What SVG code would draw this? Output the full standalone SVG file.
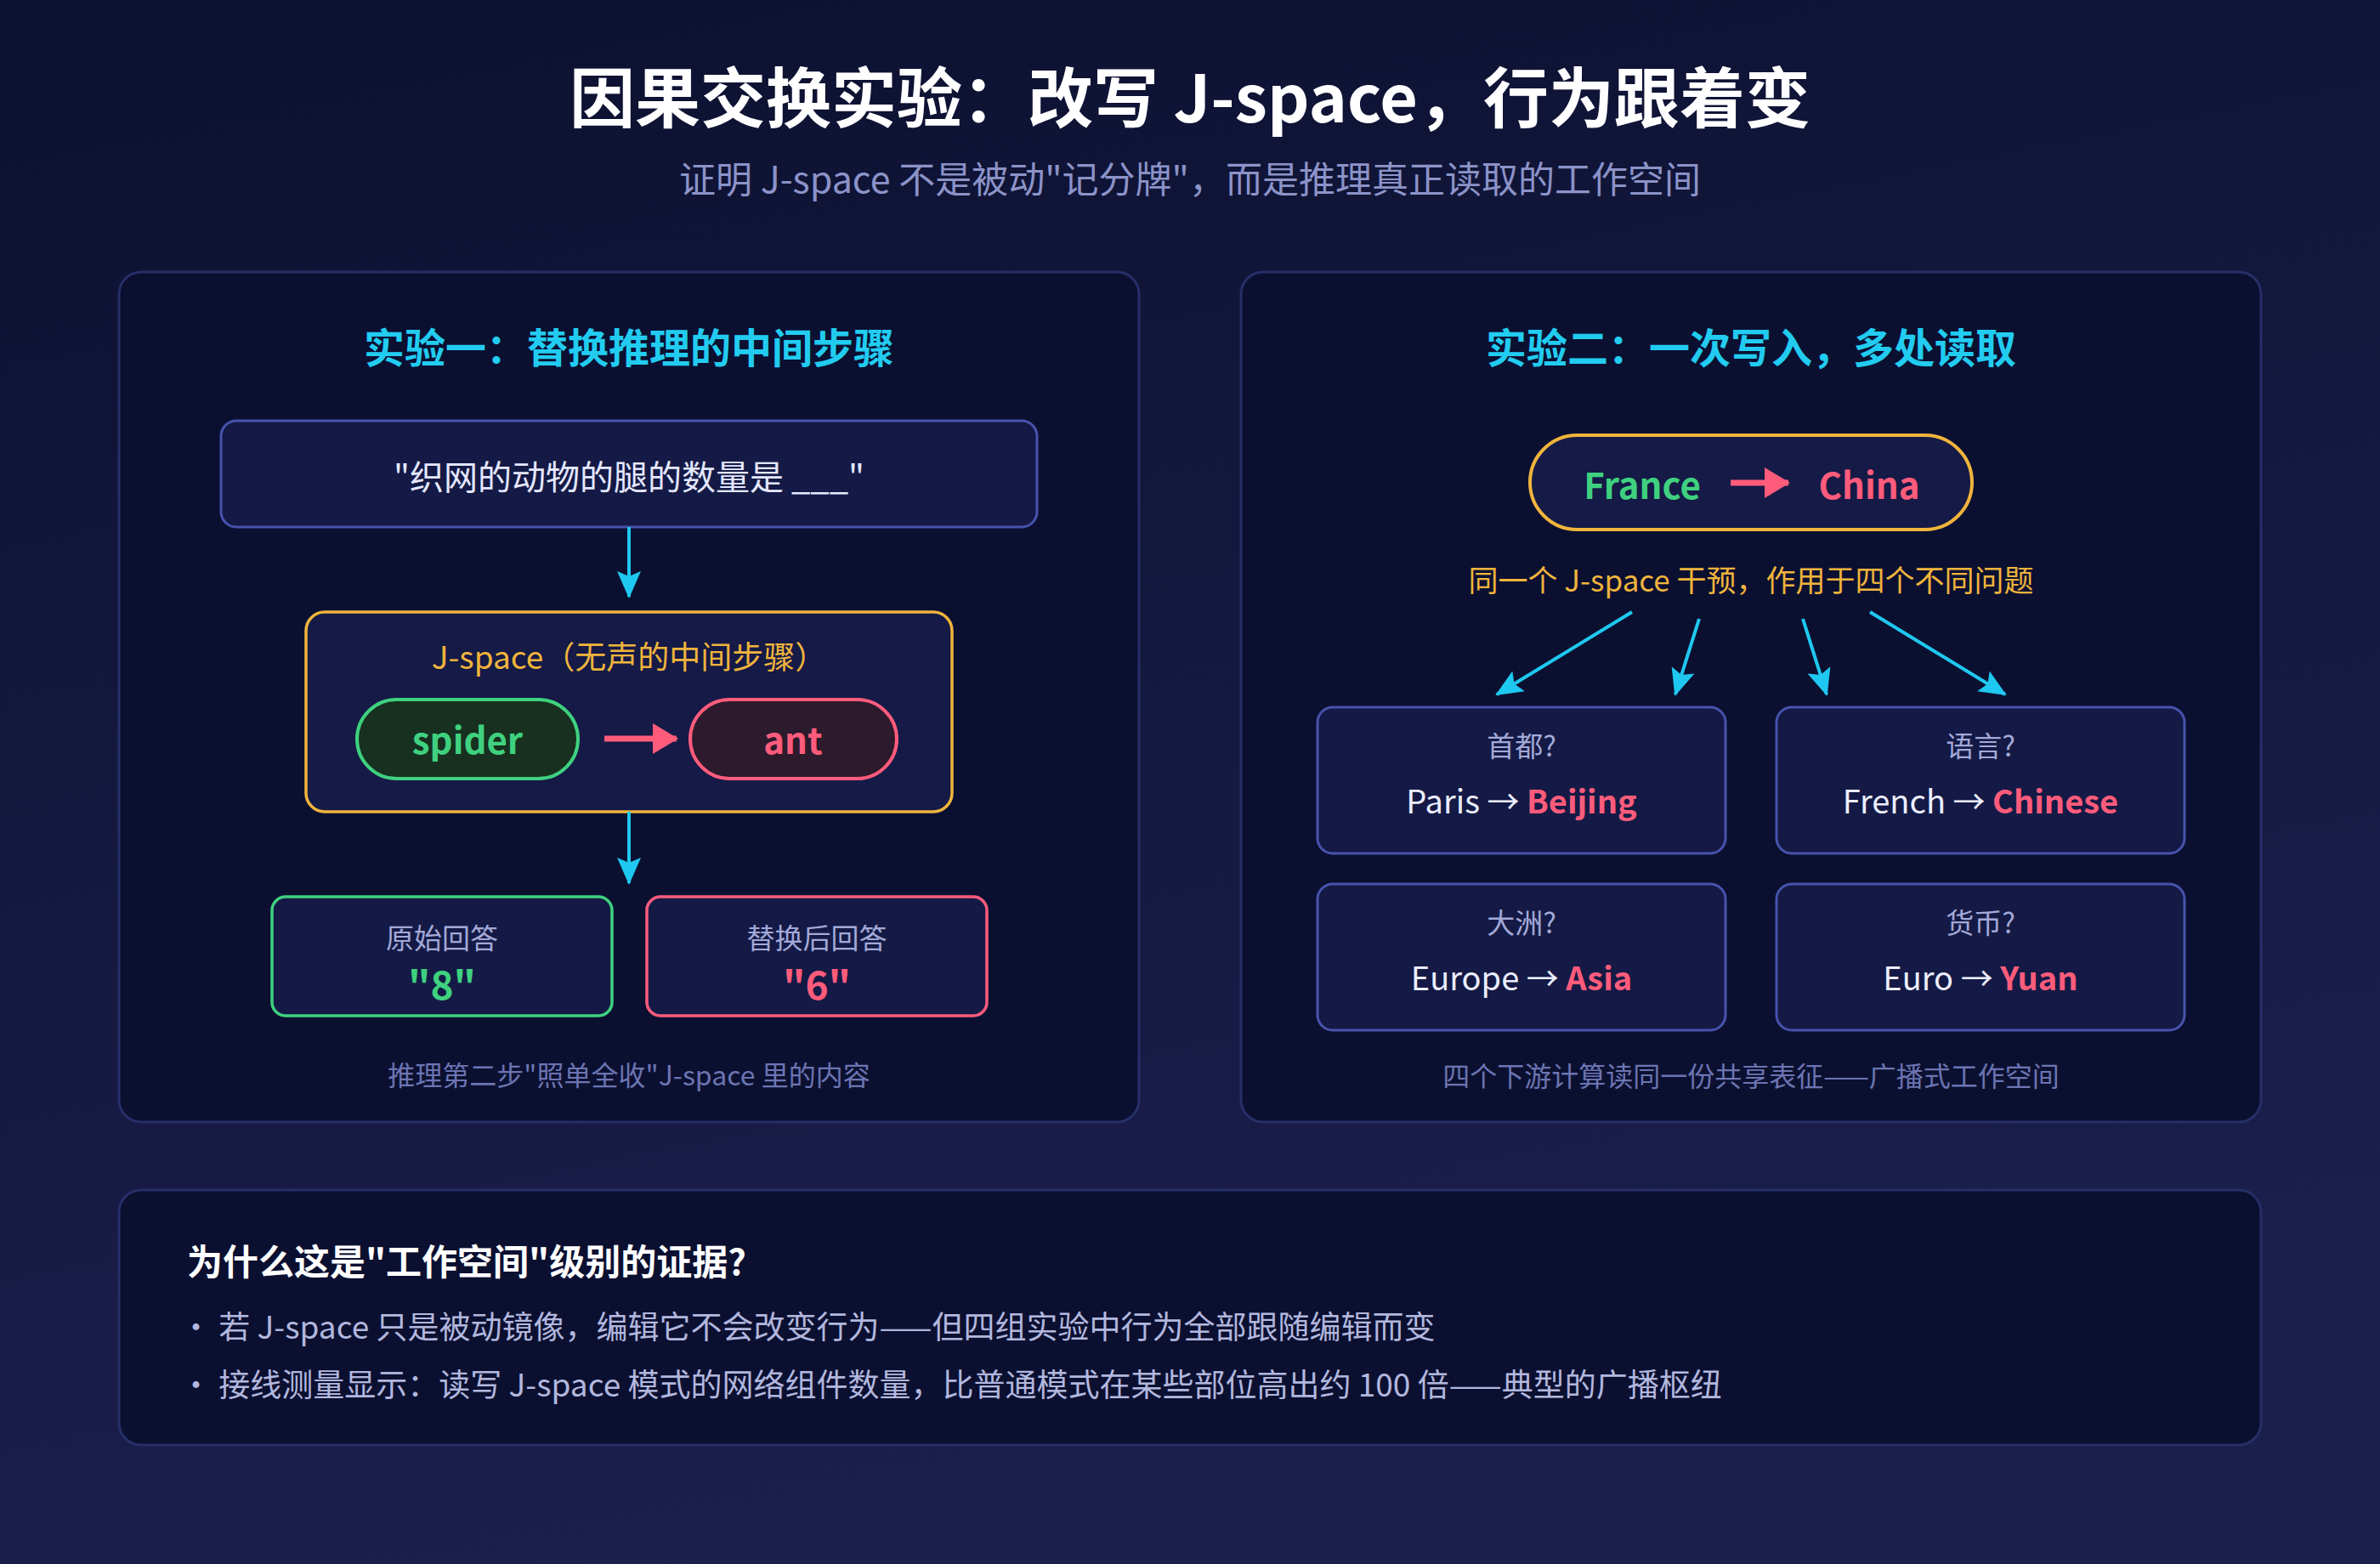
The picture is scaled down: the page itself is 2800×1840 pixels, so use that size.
<svg xmlns="http://www.w3.org/2000/svg" width="2800" height="1840" viewBox="0 0 2800 1840">
<defs>
<linearGradient id="bg" x1="0" y1="0" x2="0.3" y2="1">
<stop offset="0" stop-color="#0c1130"/>
<stop offset="1" stop-color="#1b1f4c"/>
</linearGradient>
<marker id="ac" markerUnits="userSpaceOnUse" viewBox="0 0 32 28" markerWidth="32" markerHeight="28" refX="30" refY="14" orient="auto">
<path d="M0,0 L32,14 L0,28 L6,14 Z" fill="#1fc8f0"/>
</marker>
<marker id="ap" markerUnits="userSpaceOnUse" viewBox="0 0 30 36" markerWidth="30" markerHeight="36" refX="28" refY="18" orient="auto">
<path d="M0,0 L30,18 L0,36 Z" fill="#ff5c7c"/>
</marker>
</defs>
<style>
text{font-family:"Noto Sans CJK SC","Noto Sans",sans-serif;dominant-baseline:central;text-anchor:middle}
.panel{fill:#0b1031;stroke:#262f68;stroke-width:3}
.box{fill:#141a45;stroke:#4753ad;stroke-width:3}
.cy{stroke:#1fc8f0;stroke-width:4;fill:none;marker-end:url(#ac)}
.pk{stroke:#ff5c7c;stroke-width:7;fill:none;marker-end:url(#ap)}
.h{fill:#22ccf0;font-size:48px;font-weight:700}
.lab{fill:#a3a9d8;font-size:33px}
.ans{fill:#eceeff;font-size:38px}
.red{fill:#ff5c7c;font-weight:600}
.cap{fill:#6c75b2;font-size:32px}
.why{fill:#ffffff;font-size:42px;font-weight:700;text-anchor:start}
.bul{fill:#b2b7de;font-size:37px;text-anchor:start}
</style>
<rect width="2800" height="1840" fill="url(#bg)"/>

<g id="title">
<text x="1400" y="110" fill="#ffffff" font-size="77" font-weight="700">因果交换实验：改写 J-space，行为跟着变</text>
<text x="1400" y="208" fill="#8c93c8" font-size="43">证明 J-space 不是被动"记分牌"，而是推理真正读取的工作空间</text>
</g>

<g id="panel-left">
<rect class="panel" x="140" y="320" width="1200" height="1000" rx="26"/>
<text class="h" x="740" y="406">实验一：替换推理的中间步骤</text>
</g>
<g id="prompt">
<rect class="box" x="260" y="495" width="960" height="125" rx="18"/>
<text x="740" y="559" fill="#e4e7ff" font-size="40">"织网的动物的腿的数量是 ___"</text>
</g>
<g id="jspace">
<rect x="360" y="720" width="760" height="235" rx="22" fill="#151a46" stroke="#f0b43c" stroke-width="3.5"/>
<text x="740" y="771" fill="#f0b43c" font-size="37">J-space（无声的中间步骤）</text>
</g>
<g id="spider">
<rect x="420" y="823" width="260" height="93" rx="46.5" fill="#17301f" stroke="#3fd17f" stroke-width="4"/>
<text x="550" y="868" fill="#3fd17f" font-size="42" font-weight="700">spider</text>
</g>
<g id="ant">
<rect x="812" y="823" width="243" height="93" rx="46.5" fill="#2d1a2c" stroke="#ff5c7c" stroke-width="4"/>
<text x="933" y="868" fill="#ff5c7c" font-size="42" font-weight="700">ant</text>
</g>
<g id="orig">
<rect x="320" y="1055" width="400" height="140" rx="16" fill="#141a45" stroke="#3fd17f" stroke-width="3.5"/>
<text class="lab" x="520" y="1102">原始回答</text>
<text x="520" y="1156" fill="#3fd17f" font-size="46" font-weight="700">"8"</text>
</g>
<g id="swapped">
<rect x="761" y="1055" width="400" height="140" rx="16" fill="#141a45" stroke="#ff5c7c" stroke-width="3.5"/>
<text class="lab" x="961" y="1102">替换后回答</text>
<text x="961" y="1156" fill="#ff5c7c" font-size="46" font-weight="700">"6"</text>
</g>
<g id="caption-left">
<text class="cap" x="740" y="1263">推理第二步"照单全收"J-space 里的内容</text>
</g>

<g id="panel-right">
<rect class="panel" x="1460" y="320" width="1200" height="1000" rx="26"/>
<text class="h" x="2060" y="406">实验二：一次写入，多处读取</text>
</g>
<g id="france-china">
<rect x="1800" y="512" width="520" height="111" rx="55.5" fill="#151a46" stroke="#f0b43c" stroke-width="4"/>
<text x="1932" y="568" fill="#3fd17f" font-size="42" font-weight="600">France</text>
<text x="2199" y="568" fill="#ff5c7c" font-size="42" font-weight="600">China</text>
</g>
<g id="caption-yellow">
<text x="2060" y="680" fill="#f0b43c" font-size="35">同一个 J-space 干预，作用于四个不同问题</text>
</g>
<g id="q-capital">
<rect class="box" x="1550" y="832" width="480" height="172" rx="18"/>
<text class="lab" x="1790" y="876">首都?</text>
<text class="ans" x="1790" y="940">Paris → <tspan class="red">Beijing</tspan></text>
</g>
<g id="q-language">
<rect class="box" x="2090" y="832" width="480" height="172" rx="18"/>
<text class="lab" x="2330" y="876">语言?</text>
<text class="ans" x="2330" y="940">French → <tspan class="red">Chinese</tspan></text>
</g>
<g id="q-continent">
<rect class="box" x="1550" y="1040" width="480" height="172" rx="18"/>
<text class="lab" x="1790" y="1084">大洲?</text>
<text class="ans" x="1790" y="1148">Europe → <tspan class="red">Asia</tspan></text>
</g>
<g id="q-currency">
<rect class="box" x="2090" y="1040" width="480" height="172" rx="18"/>
<text class="lab" x="2330" y="1084">货币?</text>
<text class="ans" x="2330" y="1148">Euro → <tspan class="red">Yuan</tspan></text>
</g>
<g id="caption-right">
<text class="cap" x="2060" y="1264">四个下游计算读同一份共享表征——广播式工作空间</text>
</g>

<g id="connectors">
<line class="cy" x1="740" y1="620" x2="740" y2="702"/>
<line class="cy" x1="740" y1="955" x2="740" y2="1039"/>
<line class="pk" x1="711" y1="869" x2="796" y2="869"/>
<line class="pk" x1="2036" y1="568" x2="2104" y2="568"/>
<line class="cy" x1="1920" y1="720" x2="1761" y2="817"/>
<line class="cy" x1="1999" y1="728" x2="1971" y2="817"/>
<line class="cy" x1="2121" y1="728" x2="2149" y2="817"/>
<line class="cy" x1="2200" y1="720" x2="2359" y2="817"/>
</g>

<g id="panel-bottom">
<rect class="panel" x="140" y="1400" width="2520" height="300" rx="26"/>
<text class="why" x="220" y="1481">为什么这是"工作空间"级别的证据?</text>
<text class="bul" x="212" y="1559">· 若 J-space 只是被动镜像，编辑它不会改变行为——但四组实验中行为全部跟随编辑而变</text>
<text class="bul" x="212" y="1627">· 接线测量显示：读写 J-space 模式的网络组件数量，比普通模式在某些部位高出约 100 倍——典型的广播枢纽</text>
</g>
</svg>
